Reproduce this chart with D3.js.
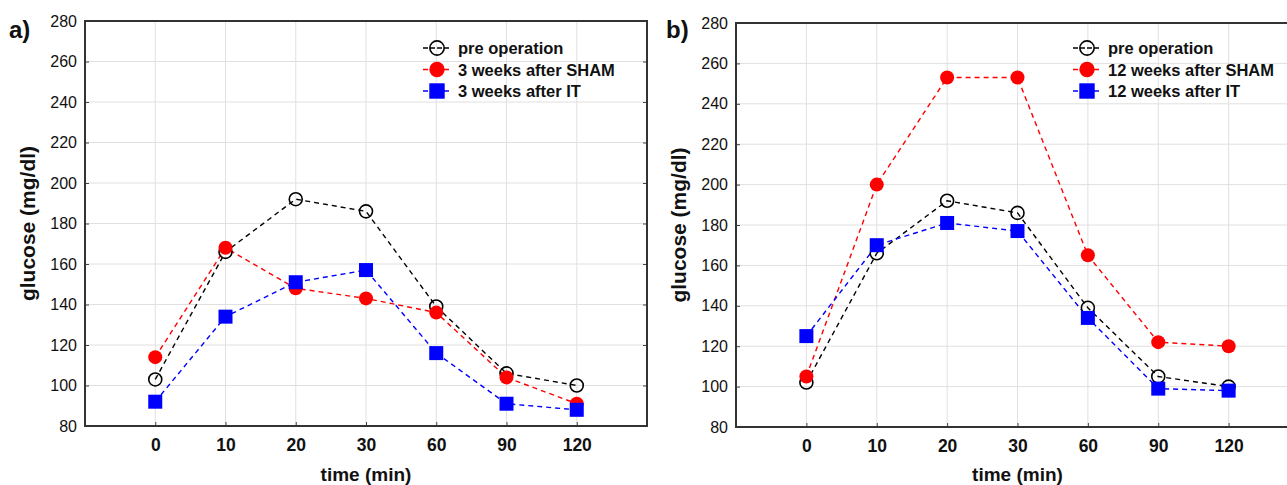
<!DOCTYPE html>
<html lang="en">
<head>
<meta charset="utf-8">
<title>Glucose tolerance</title>
<script src="https://d3js.org/d3.v7.min.js"></script>
<style>
  body { margin: 0; background: #fff; }
  svg { display: block; font-family: "Liberation Sans", Arial, sans-serif; }
  .grid line { stroke: #e0e0e0; stroke-width: 1; }
  .axis text { fill: #111; }
  .axis line { stroke: #444; }
  .xaxis text { font-weight: bold; font-size: 17.5px; }
  .yaxis text { font-size: 16px; }
  .title { font-weight: bold; font-size: 21px; fill: #111; }
  .legend text { font-weight: bold; font-size: 16.5px; fill: #111; }
</style>
</head>
<body>
<script>
const W = 1287, H = 485;

// time points (categorical x axis)
const times = ["0", "10", "20", "30", "60", "90", "120"];
const yTicks = [80, 100, 120, 140, 160, 180, 200, 220, 240, 260, 280];

// panel a) 3 weeks
const preA  = [103, 166, 192, 186, 139, 106, 100];
const shamA = [114, 168, 148, 143, 136, 104, 91];
const itA   = [92, 134, 151, 157, 116, 91, 88];

// panel b) 12 weeks
const preB  = [102, 166, 192, 186, 139, 105, 100];
const shamB = [105, 200, 253, 253, 165, 122, 120];
const itB   = [125, 170, 181, 177, 134, 99, 98];

const labelsA = ["pre operation", "3 weeks after SHAM", "3 weeks after IT"];
const labelsB = ["pre operation", "12 weeks after SHAM", "12 weeks after IT"];

const svg = d3.select("body").append("svg")
    .attr("width", W)
    .attr("height", H);

const styles = [
  { color: "#000", shape: "open" },
  { color: "#ff0000", shape: "circle" },
  { color: "#0000ff", shape: "square" }
];

function marker(g, shape, color, x, y, s = 1) {
  if (shape === "square") {
    g.append("rect")
      .attr("x", x - 7 * s).attr("y", y - 7 * s)
      .attr("width", 14 * s).attr("height", 14 * s)
      .attr("fill", color);
  } else if (shape === "circle") {
    g.append("circle")
      .attr("cx", x).attr("cy", y).attr("r", 7 * s)
      .attr("fill", color);
  } else {
    g.append("circle")
      .attr("cx", x).attr("cy", y).attr("r", 6.5 * s)
      .attr("fill", "none")
      .attr("stroke", color)
      .attr("stroke-width", 1.6);
  }
}

function drawPanel(p) {
  const g = svg.append("g");
  const x = d3.scalePoint().domain(times).range([p.left, p.right]).padding(1);
  const y = d3.scaleLinear().domain([80, 280]).range([p.bottom, p.top]);

  // grid
  const grid = g.append("g").attr("class", "grid");
  grid.selectAll(".gy").data(yTicks.slice(1, -1)).join("line")
    .attr("x1", p.left).attr("x2", p.right)
    .attr("y1", d => y(d)).attr("y2", d => y(d));
  grid.selectAll(".gx").data(times).join("line")
    .attr("x1", d => x(d)).attr("x2", d => x(d))
    .attr("y1", p.top).attr("y2", p.bottom);

  // axes
  g.append("g")
    .attr("class", "axis yaxis")
    .attr("transform", `translate(${p.left},0)`)
    .call(d3.axisLeft(y).tickValues(yTicks).tickSizeInner(-4).tickSizeOuter(0).tickPadding(8))
    .call(a => a.select(".domain").remove());
  g.append("g")
    .attr("class", "axis")
    .attr("transform", `translate(${p.right},0)`)
    .call(d3.axisRight(y).tickValues(yTicks).tickSizeInner(-4).tickSizeOuter(0).tickFormat(""))
    .call(a => a.select(".domain").remove());
  g.append("g")
    .attr("class", "axis xaxis")
    .attr("transform", `translate(0,${p.bottom})`)
    .call(d3.axisBottom(x).tickSizeInner(-4).tickSizeOuter(0).tickPadding(13))
    .call(a => a.select(".domain").remove());

  // frame
  g.append("rect")
    .attr("x", p.left).attr("y", p.top)
    .attr("width", p.right - p.left).attr("height", p.bottom - p.top)
    .attr("fill", "none").attr("stroke", "#333").attr("stroke-width", 2);

  // series
  const line = d3.line().x((d, i) => x(times[i])).y(d => y(d));
  p.series.forEach((s, k) => {
    g.append("path")
      .datum(s)
      .attr("d", line)
      .attr("fill", "none")
      .attr("stroke", styles[k].color)
      .attr("stroke-width", 1.4)
      .attr("stroke-dasharray", "5,4");
  });
  p.series.forEach((s, k) => {
    const mg = g.append("g");
    s.forEach((v, i) => marker(mg, styles[k].shape, styles[k].color, x(times[i]), y(v)));
  });

  // legend
  const lg = g.append("g").attr("class", "legend");
  p.labels.forEach((t, k) => {
    const ly = p.legY + k * 21.5;
    lg.append("line")
      .attr("x1", p.legX - 14).attr("x2", p.legX + 14)
      .attr("y1", ly).attr("y2", ly)
      .attr("stroke", styles[k].color).attr("stroke-width", 1.4)
      .attr("stroke-dasharray", "5,2");
    marker(lg, styles[k].shape, styles[k].color, p.legX, ly, 1.1);
    lg.append("text")
      .attr("x", p.legX + 21).attr("y", ly + 6)
      .text(t);
  });

  // titles
  g.append("text")
    .attr("class", "title")
    .attr("transform", `translate(${p.yTitleX},${(p.top + p.bottom) / 2}) rotate(-90)`)
    .attr("text-anchor", "middle")
    .attr("dy", "0.35em")
    .text("glucose (mg/dl)");
  g.append("text")
    .attr("class", "title")
    .attr("x", x("30")).attr("y", 481)
    .attr("text-anchor", "middle")
    .style("font-size", "19px")
    .text("time (min)");
  g.append("text")
    .attr("class", "title")
    .attr("x", p.tagX).attr("y", 38)
    .style("font-size", "24px")
    .text(p.tag);
}

drawPanel({
  left: 85, right: 647, top: 21, bottom: 426,
  series: [preA, shamA, itA], labels: labelsA,
  legX: 437, legY: 48, yTitleX: 28, tagX: 9, tag: "a)"
});

drawPanel({
  left: 736, right: 1299, top: 23, bottom: 427,
  series: [preB, shamB, itB], labels: labelsB,
  legX: 1087, legY: 48, yTitleX: 679, tagX: 666, tag: "b)"
});
</script>
</body>
</html>
